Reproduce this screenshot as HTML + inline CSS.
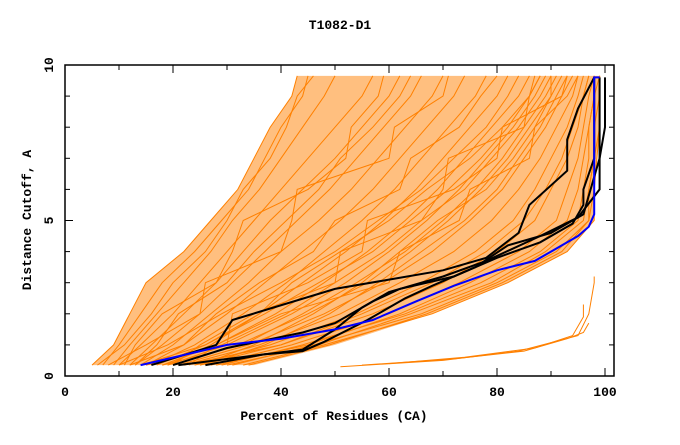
<!DOCTYPE html>
<html><head><meta charset="utf-8"><style>
body{margin:0;background:#fff}
svg text{font-family:"Liberation Mono",monospace;font-weight:bold;font-size:13px;fill:#000}
</style></head><body>
<svg id="chart" width="680" height="440" xmlns="http://www.w3.org/2000/svg">
<text x="340" y="29" text-anchor="middle">T1082-D1</text>
<text x="334" y="420" text-anchor="middle">Percent of Residues (CA)</text>
<text transform="translate(31,220) rotate(-90)" text-anchor="middle">Distance Cutoff, A</text>
<g id="series"></g>
<g id="axes"></g>
</svg>
<script>
const yLevels=[0.35,1,2,3,4,5,6,7,8,9,9.65];
const envLowX=[5,9,12,15,22,27,32,35,38,42,43];
const envHighX=[35,50,68,82,93,98,98,98.5,99,99,99];
const orangeCurves=[
[5,9,12,15,22,27,32,35,38,42,43],
[7,10,14,18,24,29,34,37,40,44,45],
[9,12,17,22,27,31,36,40,44,48,50],
[10,14,20,25,30,35,40,45,50,55,57],
[12,16,22,28,33,38,44,50,55,60,62],
[13,18,25,31,37,43,49,54,59,64,66],
[14,20,27,34,40,47,53,58,63,68,70],
[15,22,30,37,44,51,57,62,67,72,74],
[16,24,33,41,48,55,61,66,71,76,78],
[17,26,36,44,52,59,65,70,75,80,82],
[18,28,39,48,56,63,69,74,79,84,86],
[19,30,42,52,60,67,73,78,83,87,89],
[20,32,45,56,64,71,77,82,86,90,92],
[21,34,48,59,68,75,81,85,89,92,94],
[22,36,51,62,72,79,84,88,91,94,95],
[24,38,54,66,76,83,87,90,93,95,96],
[25,40,57,70,80,87,90,93,95,96,97],
[27,42,60,73,84,91,93,95,96,97,98],
[29,44,63,77,88,95,96,97,97,98,98],
[31,46,66,80,91,97,97,98,98,99,99],
[33,48,68,82,93,98,98,98.5,99,99,99],
[11,13,18,28,31,33,45,52,53,58,59],
[8,15,25,26,40,42,43,60,61,70,71],
[20,25,35,50,51,66,70,71,85,86,88],
[15,30,31,45,55,56,72,80,81,92,93],
[23,28,40,60,62,73,75,86,87,90,90],
[26,37,49,58,66,74,80,84,88,91,93],
[12,22,28,36,46,50,62,64,73,77,80],
[18,33,44,54,63,70,76,81,85,89,91],
[14,26,37,47,57,64,71,77,82,86,88],
[22,40,55,68,78,85,89,92,94,96,97],
[10,19,29,40,50,58,66,72,78,82,84],
[28,45,62,75,86,93,95,96,97,98,98],
[16,29,41,50,59,66,74,79,84,88,90],
[6,11,16,20,26,30,33,38,41,43,46],
[13,17,21,30,35,41,47,51,57,62,64],
[30,47,64,79,89,96,97,98,98,98,99],
[19,27,36,42,51,60,67,75,81,86,87],
[25,35,46,55,62,69,78,83,87,93,95],
[34,49,67,81,92,97,98,98,99,99,99]
];
const strayX=[51,70,84,95,97,98,98];
const strayY=[0.3,0.5,0.8,1.3,2,3,3.2];
const stray2X=[55,72,85,93,96,97];
const stray2Y=[0.35,0.55,0.8,1.2,1.4,1.7];
const stray3X=[60,74,87,94,96,96];
const stray3Y=[0.4,0.6,0.9,1.3,1.9,2.3];
const blueX=[14,30,40,50,57,65,72,80,87,90,95,97,98,98,99];
const blueY=[0.35,1,1.2,1.5,1.8,2.4,2.9,3.4,3.7,4,4.5,4.8,5.2,9.6,9.6];
const black1X=[16,28,31,50,60,70,78,84,86,93,93,95,98];
const black1Y=[0.35,1,1.8,2.8,3.1,3.4,3.8,4.6,5.5,6.6,7.6,8.6,9.6];
const black2X=[20,30,44,50,57,62,72,80,88,94,96,96,98,98];
const black2Y=[0.35,0.9,1.4,1.7,2.4,2.8,3.2,3.8,4.3,4.9,5.5,6,7,9.6];
const black3X=[21,44,50,55,60,70,78,88,95,99,99];
const black3Y=[0.35,0.85,1.5,2.2,2.7,3.2,3.7,4.5,5.1,6,9.6];
const black4X=[26,37,44,48,56,63,68,76,82,90,96,99,100,100];
const black4Y=[0.35,0.7,0.8,1.1,1.8,2.5,2.9,3.5,4.2,4.6,5.2,7,8,9.6];
const xTicks=[0,20,40,60,80,100];
const yTicks=[0,5,10];

const L=65,R=614,T=65,B=376;
const sx=v=>65+v*5.4;
const sy=v=>376-v*31.1;
const NS="http://www.w3.org/2000/svg";
const g=document.getElementById('series'),ax=document.getElementById('axes');
const env=document.createElementNS(NS,'polygon');
env.setAttribute('points',envLowX.map((x,i)=>sx(x)+','+sy(yLevels[i])).concat(envHighX.map((x,i)=>sx(x)+','+sy(yLevels[i])).reverse()).join(' '));
env.setAttribute('fill','#ff8000');env.setAttribute('fill-opacity','0.5');


g.appendChild(env);
function line(xs,ys,color,w,name){
  const p=document.createElementNS(NS,'polyline');
  p.setAttribute('points',xs.map((x,i)=>sx(x).toFixed(1)+','+sy(ys[i]).toFixed(1)).join(' '));
  p.setAttribute('fill','none');p.setAttribute('stroke',color);p.setAttribute('stroke-width',w);
  
  
  g.appendChild(p);
}
orangeCurves.forEach((c,i)=>line(c,yLevels,'#ff8000',1,'orange-curve'));
line(strayX,strayY,'#ff8000',1,'orange-stray-curve');
line(stray2X,stray2Y,'#ff8000',1,'orange-stray-curve');
line(stray3X,stray3Y,'#ff8000',1,'orange-stray-curve');
line(black1X,black1Y,'#000',2,'black-curve-1');
line(black2X,black2Y,'#000',2,'black-curve-2');
line(black3X,black3Y,'#000',2,'black-curve-3');
line(black4X,black4Y,'#000',2,'black-curve-4');
line(blueX,blueY,'#0000ff',2,'blue-curve');
function el(tag,attrs,parent){const e=document.createElementNS(NS,tag);for(const k in attrs)e.setAttribute(k,attrs[k]);parent.appendChild(e);return e;}
const fr=el('rect',{x:L,y:T,width:R-L,height:B-T,fill:'none',stroke:'#000','stroke-width':1.5},ax);


for(let v=0;v<=100;v+=10){
  const x=sx(v),len=v%20===0?8:5;
  el('line',{x1:x,y1:B,x2:x,y2:B-len,stroke:'#000'},ax);
  el('line',{x1:x,y1:T,x2:x,y2:T+len,stroke:'#000'},ax);
}
xTicks.forEach(v=>{
  const t=el('text',{x:sx(v),y:396,'text-anchor':'middle'},ax);t.textContent=v;
  
  
});
for(let v=1;v<10;v++){
  const y=sy(v),len=v%5===0?8:5;
  el('line',{x1:L,y1:y,x2:L+len,y2:y,stroke:'#000'},ax);
  el('line',{x1:R,y1:y,x2:R-len,y2:y,stroke:'#000'},ax);
}
yTicks.forEach(v=>{
  const t=el('text',{transform:`translate(53,${sy(v)}) rotate(-90)`,'text-anchor':'middle'},ax);t.textContent=v;
  
  
});
</script>
</body></html>
